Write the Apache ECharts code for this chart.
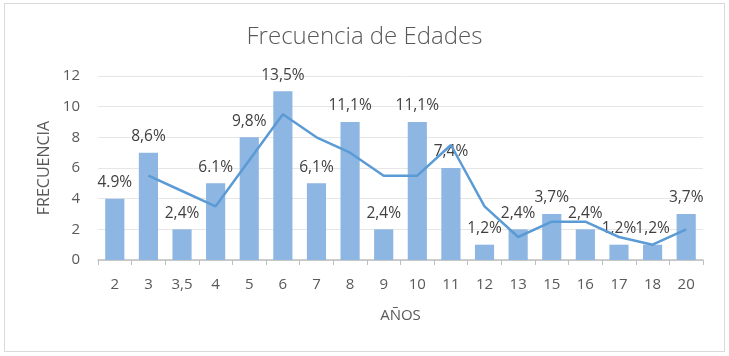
<!DOCTYPE html>
<html lang="es">
<head>
    <meta charset="utf-8"/>
    <title>Frecuencia de Edades</title>
    <script src="https://cdn.jsdelivr.net/npm/echarts@6/dist/echarts.min.js"></script>
    <style>
        html, body { margin: 0; padding: 0; background: #fff; }
        #frame {
            position: absolute; left: 4px; top: 3px; width: 719px; height: 347px;
            border: 1px solid #d9d9d9;
        }
        #main { width: 729px; height: 356px; }
    </style>
</head>
<body>
<div id="frame"></div>
<div id="main"></div>
<script>
    // edades (categorias)
    var edades = ['2', '3', '3,5', '4', '5', '6', '7', '8', '9', '10', '11', '12', '13', '15', '16', '17', '18', '20'];
    // frecuencia por edad
    var frecuencia = [4, 7, 2, 5, 8, 11, 5, 9, 2, 9, 6, 1, 2, 3, 2, 1, 1, 3];
    // etiquetas de porcentaje
    var porcentajes = ['4.9%', '8,6%', '2,4%', '6.1%', '9,8%', '13,5%', '6,1%', '11,1%', '2,4%', '11,1%',
        '7,4%', '1,2%', '2,4%', '3,7%', '2,4%', '1,2%', '1,2%', '3,7%'];
    // media movil (2 periodos), empieza en la segunda edad
    var mediaMovil = [null, 5.5, 4.5, 3.5, 6.5, 9.5, 8, 7, 5.5, 5.5, 7.5, 3.5, 1.5, 2.5, 2.5, 1.5, 1, 2];

    var myChart = echarts.init(document.getElementById('main'), null, {renderer: 'canvas'});
    var option = {
        animation: false,
        title: {
            text: 'Frecuencia de Edades',
            left: 'center',
            top: 20,
            textStyle: {
                fontFamily: 'Open Sans',
                fontWeight: 300,
                fontSize: 24,
                color: '#595959'
            }
        },
        grid: {
            left: 98,
            right: 26,
            top: 76,
            bottom: 96
        },
        xAxis: {
            type: 'category',
            data: edades,
            name: 'AÑOS',
            nameLocation: 'middle',
            nameGap: 48,
            nameTextStyle: {fontFamily: 'Open Sans', fontSize: 15, color: '#595959'},
            axisLine: {lineStyle: {color: '#bfbfbf', width: 1.5}},
            axisTick: {show: true, length: 5, lineStyle: {color: '#bfbfbf'}},
            axisLabel: {fontFamily: 'Open Sans', fontSize: 15, color: '#595959', margin: 17}
        },
        yAxis: {
            type: 'value',
            min: 0,
            max: 12,
            interval: 2,
            name: 'FRECUENCIA',
            nameLocation: 'middle',
            nameGap: 44,
            nameTextStyle: {fontFamily: 'Open Sans', fontSize: 16, color: '#595959'},
            axisLine: {show: false},
            axisTick: {show: false},
            axisLabel: {fontFamily: 'Open Sans', fontSize: 15, color: '#595959', margin: 18},
            splitLine: {lineStyle: {color: '#e6e6e6', width: 1}}
        },
        series: [
            {
                name: 'Frecuencia',
                type: 'bar',
                data: frecuencia,
                barWidth: '57%',
                itemStyle: {color: '#8db6e2'},
                label: {
                    show: true,
                    position: 'top',
                    distance: 8,
                    fontFamily: 'Open Sans',
                    fontSize: 15.5,
                    color: '#404040',
                    formatter: function (p) { return porcentajes[p.dataIndex]; }
                }
            },
            {
                name: 'Media movil',
                type: 'line',
                data: mediaMovil,
                symbol: 'none',
                lineStyle: {color: '#5b9bd5', width: 2.5}
            }
        ]
    };
    myChart.setOption(option);
</script>
</body>
</html>
